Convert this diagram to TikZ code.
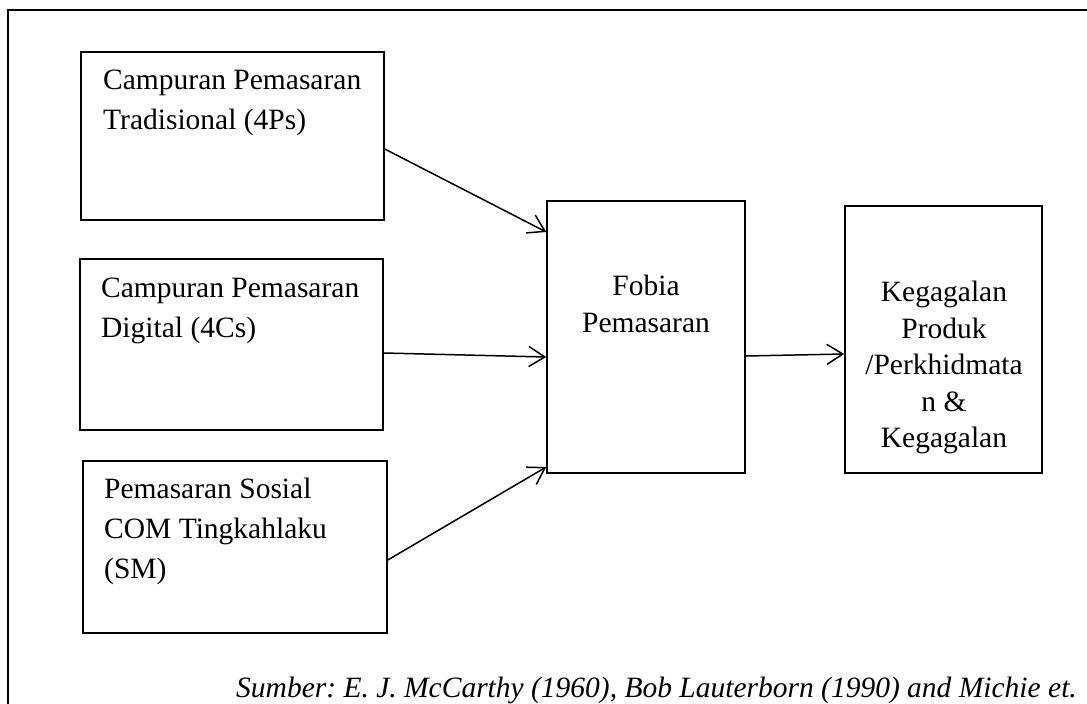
\documentclass[tikz,border=0pt]{standalone}
\usepackage{fontspec}
\setmainfont{Liberation Serif}
\usepackage{amsmath}
\usepackage{tikz}
\usetikzlibrary{arrows.meta}

\begin{document}
\begin{tikzpicture}
    [x=1pt, y=-1pt,
     every node/.style={inner sep=0pt},
     box/.style={rectangle, draw=black, line width=1.5pt, fill=white},
     txt/.style={font=\fontsize{29.5pt}{40pt}\selectfont},
     txtr/.style={font=\fontsize{29.5pt}{36.5pt}\selectfont},
     arr/.style={line width=1.5pt, -{Straight Barb[length=16pt, width=20pt]}, color=black}]
        \useasboundingbox (0,0) rectangle (1087,704);
        \draw [line width=2pt, color=black] (1095,10) -- (8,10) -- (8,712);
        \node (tra) [box, minimum width=303pt, minimum height=168pt] at (232.5, 136) {};
        \node (dig) [box, minimum width=303pt, minimum height=171pt] at (231.5, 344.5) {};
        \node (sos) [box, minimum width=304pt, minimum height=172pt] at (235, 547) {};
        \node (fob) [box, minimum width=198pt, minimum height=272pt] at (646, 337) {};
        \node (keg) [box, minimum width=197pt, minimum height=267pt] at (943.5, 339.5) {};
        \node (tratxt) [txt, anchor=north west, align=left] at (103, 69.5) {Campuran Pemasaran\\Tradisional (4Ps)};
        \node (digtxt) [txt, anchor=north west, align=left] at (101, 277.5) {Campuran Pemasaran\\Digital (4Cs)};
        \node (sostxt) [txt, anchor=north west, align=left] at (104, 478) {Pemasaran Sosial\\COM Tingkahlaku\\(SM)};
        \node (fobtxt) [txtr, anchor=north, align=center] at (646, 275) {Fobia\\Pemasaran};
        \node (kegtxt) [txtr, anchor=north, align=center] at (944, 281) {Kegagalan\\Produk\\/Perkhidmata\\n \&\\Kegagalan};
        \node (sumber) [anchor=base east, font=\fontsize{29.5pt}{37pt}\selectfont\itshape\frenchspacing] at (1077, 697) {Sumber: E. J. McCarthy (1960), Bob Lauterborn (1990) and Michie et.};
        \draw [arr] ([yshift=-13pt]tra.east) to ([yshift=105pt]fob.west);
        \draw [arr] ([yshift=-8.5pt]dig.east) to ([yshift=-20pt]fob.west);
        \draw [arr] ([yshift=-13pt]sos.east) to ([yshift=-130pt]fob.west);
        \draw [arr] ([yshift=-19pt]fob.east) to ([yshift=-14.5pt]keg.west);
    \end{tikzpicture}
\end{document}
